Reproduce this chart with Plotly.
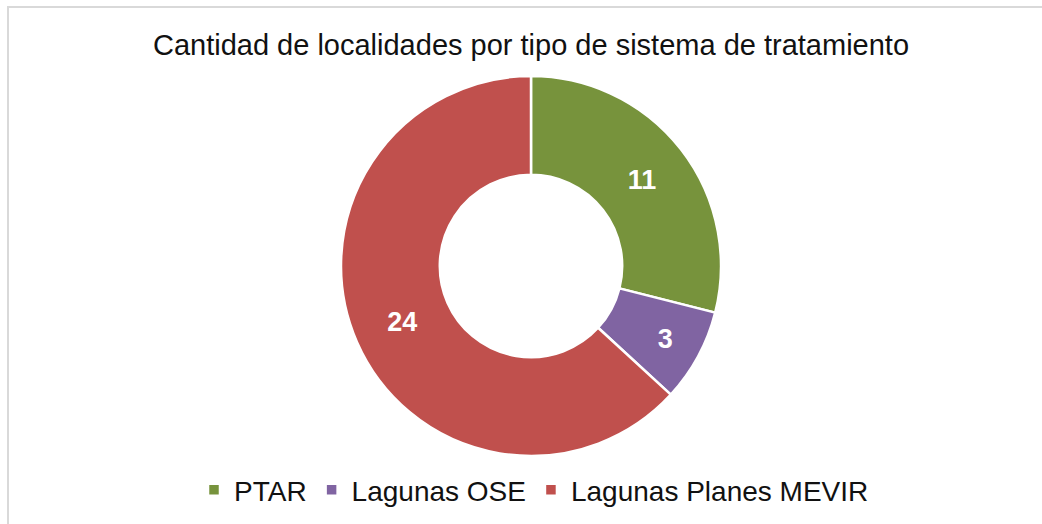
import plotly.graph_objects as go

# Localidades por tipo de sistema de tratamiento
categorias = ["PTAR", "Lagunas OSE", "Lagunas Planes MEVIR"]
cantidades = [11, 3, 24]
colores = ["#77933C", "#8064A2", "#C0504D"]

W, H = 1042, 524
cx, cy, r = 531, 266, 190

fig = go.Figure(
    go.Pie(
        labels=categorias,
        values=cantidades,
        sort=False,
        direction="clockwise",
        rotation=0,
        hole=0.48,
        marker=dict(colors=colores, line=dict(color="white", width=2.5)),
        textinfo="value",
        textposition="inside",
        insidetextorientation="horizontal",
        textfont=dict(family="Liberation Sans, Arial", size=27, color="white", weight="bold"),
        domain=dict(
            x=[(cx - r) / W, (cx + r) / W],
            y=[1 - (cy + r) / H, 1 - (cy - r) / H],
        ),
        hoverinfo="label+value",
    )
)

fig.update_layout(
    width=W,
    height=H,
    margin=dict(l=0, r=0, t=0, b=0),
    paper_bgcolor="white",
    plot_bgcolor="white",
    font=dict(family="Liberation Sans, Arial", color="#111111"),
    title=dict(
        text="Cantidad de localidades por tipo de sistema de tratamiento",
        x=cx / W,
        xanchor="center",
        y=1 - 45 / H,
        yanchor="middle",
        font=dict(size=29, color="#111111"),
    ),
    legend=dict(
        orientation="h",
        x=534 / W,
        xanchor="center",
        y=1 - 490 / H,
        yanchor="middle",
        font=dict(size=28, color="#111111"),
    ),
    shapes=[
        dict(
            type="rect",
            xref="paper",
            yref="paper",
            x0=8 / W,
            x1=1.02,
            y0=-0.02,
            y1=1 - 7 / H,
            line=dict(color="#D9D9D9", width=2),
            fillcolor="rgba(0,0,0,0)",
            layer="below",
        )
    ],
)

fig.write_html("out.html")
